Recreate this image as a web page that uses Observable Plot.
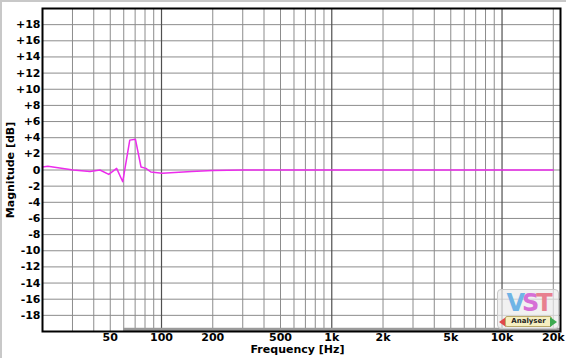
<!DOCTYPE html>
<html>
<head>
<meta charset="utf-8">
<script src="https://cdn.jsdelivr.net/npm/d3@7"></script>
<script src="https://cdn.jsdelivr.net/npm/@observablehq/plot@0.6"></script>
<style>
  html, body { margin: 0; padding: 0; background: #fff; }
  #wrap { position: relative; width: 566px; height: 358px; overflow: hidden; background: #fff; }
  .bl { position: absolute; background: #c8c8c8; }
  #logo { position: absolute; left: 497px; top: 289px; width: 60px; height: 38px;
          border: 1px solid #c8c8c8; border-radius: 4px; background: rgba(235,235,235,0.7); }
  #vst { position: absolute; left: 0; top: 1px; width: 60px; height: 24px; text-align: center;
         font: bold 24px "DejaVu Sans", sans-serif; letter-spacing: -3px; line-height: 24px; }
  #vst .v { color: #6fb4e6; } #vst .s { color: #d66fd6; } #vst .t { color: #e8808f; }
  #ana { position: absolute; left: 7px; top: 26px; width: 45px; height: 9px; background: #f6efc0;
         border: 1px solid #b9a96a; border-radius: 2px; font: bold 7px "DejaVu Sans", sans-serif;
         line-height: 9px; text-align: center; color: #222; }
  #ar1 { position: absolute; left: 1px; top: 27px; width: 0; height: 0; border-top: 5px solid transparent;
         border-bottom: 5px solid transparent; border-right: 7px solid #e04848; }
  #ar2 { position: absolute; left: 52px; top: 27px; width: 0; height: 0; border-top: 5px solid transparent;
         border-bottom: 5px solid transparent; border-left: 7px solid #3caa50; }
</style>
</head>
<body>
<div id="wrap"></div>
<script>
// Data
const freqHz = [20, 21.5, 30.3, 38, 43.5, 49, 54.5, 59.2, 65.1, 70.3, 75.8, 81, 86.6, 100.8, 150, 200, 300, 500, 1000, 2000, 5000, 10000, 20000];
const magnitudeDb = [0.37, 0.45, 0.0, -0.2, 0.0, -0.55, 0.2, -1.45, 3.7, 3.8, 0.37, 0.2, -0.25, -0.4, -0.2, -0.05, 0, 0, 0, 0, 0, 0, 0];

const gridFreqs = [30, 40, 50, 60, 70, 80, 90, 100, 200, 300, 400, 500, 600, 700, 800, 900, 1000,
                   2000, 3000, 4000, 5000, 6000, 7000, 8000, 9000, 10000, 20000];
const majorFreqs = [100, 1000, 10000];
const xTickValues = [50, 100, 200, 500, 1000, 2000, 5000, 10000, 20000];
const xTickLabels = ["50", "100", "200", "500", "1k", "2k", "5k", "10k", "20k"];
const yTickValues = [-18, -16, -14, -12, -10, -8, -6, -4, -2, 0, 2, 4, 6, 8, 10, 12, 14, 16, 18];
const bandStartHz = 60;
const bandEndHz = 22050;

const data = freqHz.map((f, i) => ({f, db: magnitudeDb[i]}));
const xTicks = xTickValues.map((v, i) => ({v, label: xTickLabels[i]}));
const font = "'DejaVu Sans', Verdana, sans-serif";

const chart = Plot.plot({
  width: 566,
  height: 358,
  marginLeft: 42,
  marginRight: 6,
  marginTop: 8,
  marginBottom: 27,
  style: {fontFamily: font, fontSize: "11px", fontWeight: "bold", background: "transparent", color: "#000"},
  x: {type: "log", domain: [20, 22050], axis: null},
  y: {domain: [-20, 20], axis: null},
  marks: [
    Plot.ruleY(yTickValues, {stroke: "#8c8c8c", strokeWidth: 1}),
    Plot.ruleX(gridFreqs.filter(f => !majorFreqs.includes(f)), {stroke: "#8c8c8c", strokeWidth: 1}),
    Plot.ruleX(majorFreqs, {stroke: "#505050", strokeWidth: 1.2}),
    Plot.rect([{a: bandStartHz, b: bandEndHz}], {x1: "a", x2: "b", y1: -20, y2: -19.6, fill: "#9a9a9a"}),
    Plot.line(data, {x: "f", y: "db", stroke: "#ec2cec", strokeWidth: 1.5}),
    Plot.frame({stroke: "#000", strokeWidth: 2}),
    Plot.text(xTicks, {x: "v", text: "label", frameAnchor: "bottom", lineAnchor: "top", dy: 2,
      fontWeight: "bold", fontSize: 11, fill: "#000"}),
    Plot.text(yTickValues, {y: d => d, text: d => d > 0 ? "+" + d : String(d), frameAnchor: "left",
      textAnchor: "end", dx: -2, fontWeight: "bold", fontSize: 11, fill: "#000"}),
    Plot.text(["Frequency [Hz]"], {frameAnchor: "bottom", lineAnchor: "top", dx: -4, dy: 14,
      fontWeight: "bold", fontSize: 11, fill: "#000"}),
    Plot.text(["Magnitude [dB]"], {frameAnchor: "left", textAnchor: "middle", dx: -32, rotate: -90,
      fontWeight: "bold", fontSize: 11, fill: "#000"})
  ]
});

const wrap = document.getElementById("wrap");
wrap.appendChild(chart);
chart.style.position = "absolute";
chart.style.left = "0px";
chart.style.top = "0px";

wrap.insertAdjacentHTML("beforeend",
  '<div class="bl" style="left:0;top:0;width:566px;height:2px"></div>' +
  '<div class="bl" style="left:0;top:0;width:2px;height:358px"></div>' +
  '<div id="logo"><div id="vst"><span class="v">V</span><span class="s">S</span><span class="t">T</span></div>' +
  '<div id="ar1"></div><div id="ana">Analyser</div><div id="ar2"></div></div>');
</script>
</body>
</html>
